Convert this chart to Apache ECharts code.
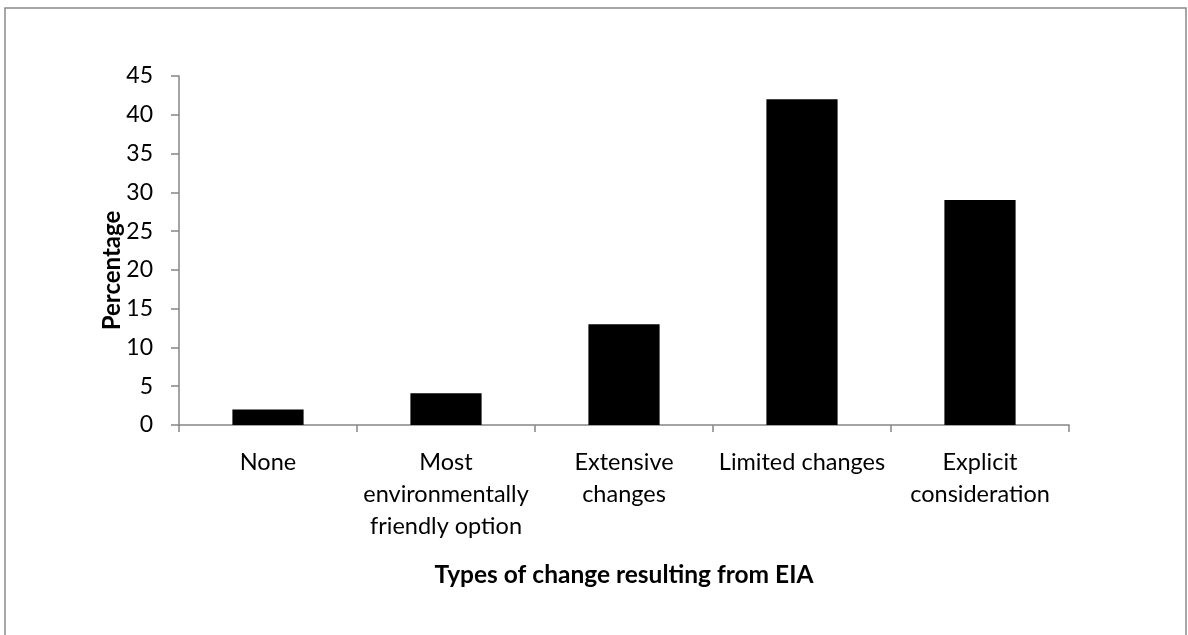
<!DOCTYPE html>
<html>
<head>
<meta charset="utf-8">
<title>Types of change resulting from EIA</title>
<script src="https://cdn.jsdelivr.net/npm/echarts@6/dist/echarts.min.js"></script>
<style>
  html, body { margin: 0; padding: 0; background: #ffffff; }
  #chart { width: 1188px; height: 635px; }
</style>
</head>
<body>
<div id="chart"></div>
<script>
// Share of cases by type of change brought about by the EIA
const categories = [
  'None',
  'Most\nenvironmentally\nfriendly option',
  'Extensive\nchanges',
  'Limited changes',
  'Explicit\nconsideration'
];
const percentages = [2, 4.1, 13, 42, 29];
const yTicks = { min: 0, max: 45, interval: 5 };

const FONT = 'Lato, "Open Sans", "Liberation Sans", sans-serif';
const axisGray = '#868686';

const chart = echarts.init(document.getElementById('chart'), null, { renderer: 'canvas' });

chart.setOption({
  backgroundColor: '#ffffff',
  animation: false,
  graphic: [{
    type: 'rect',
    silent: true,
    shape: { x: 5, y: 8, width: 1181, height: 700 },
    style: { fill: 'none', stroke: '#8a8a8a', lineWidth: 1.5 }
  }],
  grid: { left: 179, right: 119, top: 76, bottom: 210, containLabel: false },
  xAxis: {
    type: 'category',
    data: categories,
    name: 'Types of change resulting from EIA',
    nameLocation: 'middle',
    nameGap: 138,
    nameMoveOverlap: false,
    nameTextStyle: { fontFamily: FONT, fontSize: 24.5, fontWeight: 'bold', color: '#000' },
    axisLine: { lineStyle: { color: axisGray, width: 1.5 } },
    axisTick: { show: true, length: 7, lineStyle: { color: axisGray, width: 1.5 } },
    axisLabel: {
      interval: 0,
      margin: 21,
      fontFamily: FONT,
      fontSize: 23.5,
      lineHeight: 32,
      color: '#000',
      align: 'center'
    }
  },
  yAxis: {
    type: 'value',
    min: yTicks.min,
    max: yTicks.max,
    interval: yTicks.interval,
    name: 'Percentage',
    nameLocation: 'middle',
    nameGap: 55,
    nameMoveOverlap: false,
    nameRotate: 90,
    nameTextStyle: { fontFamily: FONT, fontSize: 24, fontWeight: 'bold', color: '#000', padding: [0, 40, 0, 0] },
    splitLine: { show: false },
    axisLine: { show: true, lineStyle: { color: axisGray, width: 1.5 } },
    axisTick: { show: true, length: 8, lineStyle: { color: axisGray, width: 1.5 } },
    axisLabel: { margin: 26, fontFamily: FONT, fontSize: 23, color: '#000' }
  },
  series: [{
    type: 'bar',
    data: percentages,
    barCategoryGap: '60%',
    itemStyle: { color: '#000000' },
    silent: true
  }]
});
</script>
</body>
</html>
